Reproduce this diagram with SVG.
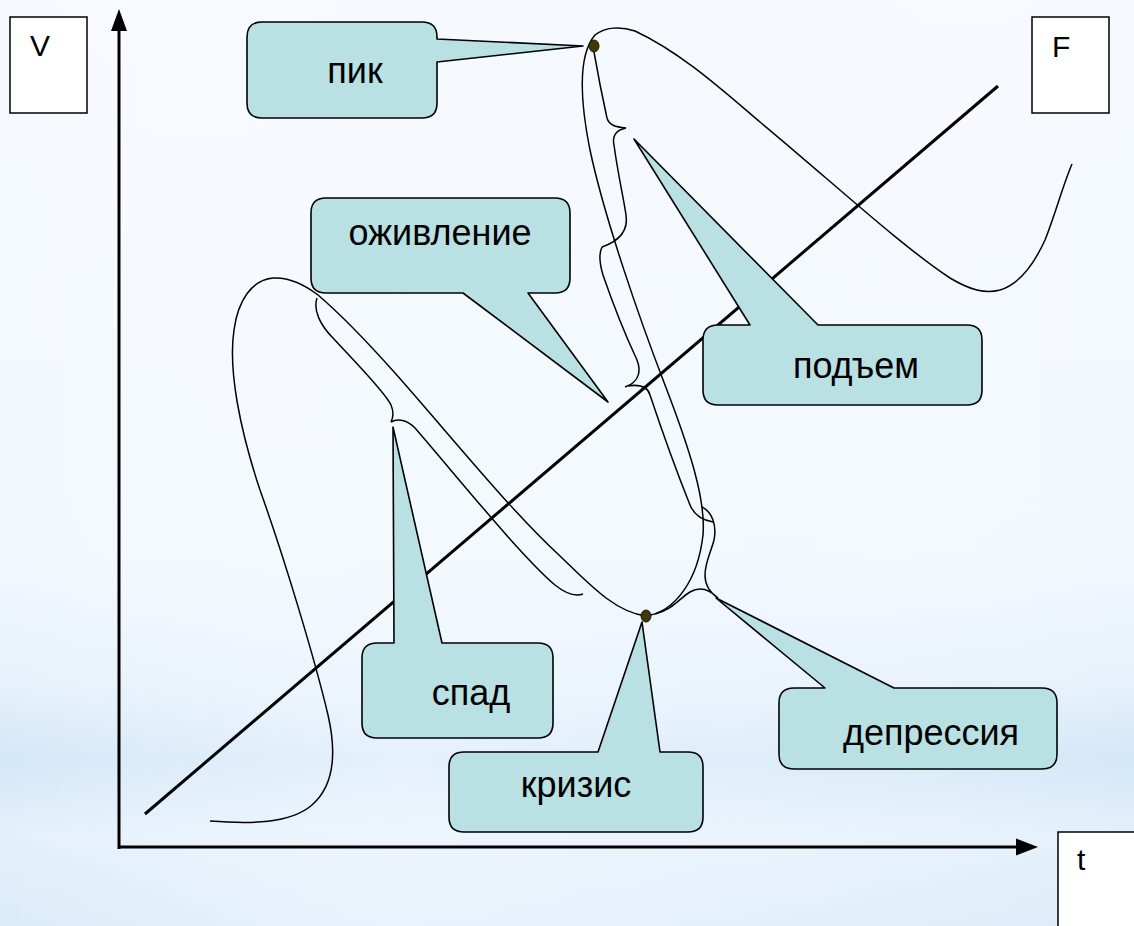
<svg xmlns="http://www.w3.org/2000/svg" width="1134" height="926" viewBox="0 0 1134 926">
<defs>
<linearGradient id="bg" x1="0" y1="0" x2="0" y2="1">
<stop offset="0" stop-color="#f6faff"/>
<stop offset="0.6" stop-color="#f2f8fe"/>
<stop offset="0.74" stop-color="#e6f1fb"/>
<stop offset="0.82" stop-color="#d3e7f8"/>
<stop offset="0.9" stop-color="#e4f0fb"/>
<stop offset="1" stop-color="#dbebf9"/>
</linearGradient>
<linearGradient id="bgh" x1="0" y1="0" x2="1" y2="0">
<stop offset="0" stop-color="#ffffff" stop-opacity="0"/>
<stop offset="0.35" stop-color="#f6faff" stop-opacity="0.5"/>
<stop offset="0.7" stop-color="#f6faff" stop-opacity="0.3"/>
<stop offset="1" stop-color="#ffffff" stop-opacity="0"/>
</linearGradient>
<marker id="ah" viewBox="0 0 10 10" refX="10" refY="5" markerWidth="7" markerHeight="6" markerUnits="strokeWidth" orient="auto">
<path d="M0,0 L10,5 L0,10 Z" fill="#000"/>
</marker>
<style>
.lbl{fill:#fff;stroke:#000;stroke-width:1.5}
.ax{fill:none;stroke:#000;stroke-width:3}
.crv{fill:none;stroke:#000;stroke-width:1.5}
.co{fill:#b9e0e3;stroke:#000;stroke-width:1.6;stroke-linejoin:round}
.t{font-family:"Liberation Sans",Arial,sans-serif;font-size:36px;fill:#000;text-anchor:middle}
.s{font-family:"Liberation Sans",Arial,sans-serif;font-size:30px;fill:#000}
.dot{fill:#3d3a05;stroke:#1a1a00;stroke-width:1}
</style>
</defs>
<rect width="1134" height="926" fill="url(#bg)"/>
<rect width="1134" height="926" fill="url(#bgh)"/>

<g id="axis-labels">
<g id="label-V"><rect class="lbl" x="10" y="17" width="77" height="96"/><text class="s" x="30" y="56">V</text></g>
<g id="label-F"><rect class="lbl" x="1032" y="17" width="77" height="96"/><text class="s" x="1052" y="57">F</text></g>
<g id="label-t"><rect class="lbl" x="1058" y="832" width="80" height="96"/><text class="s" x="1077" y="870">t</text></g>
</g>

<g id="connectors">
<line class="ax" x1="119" y1="849" x2="119" y2="28"/>
<path d="M119,9 L127,31 L111,31 Z" fill="#000"/>
<line class="ax" x1="118" y1="847" x2="1018" y2="847"/>
<path d="M1038,847 L1016,838.5 L1016,855.5 Z" fill="#000"/>
<line class="ax" x1="145" y1="814" x2="998" y2="86"/>
<path class="crv" d="M210,821 C250,824 290,824 312,805 C335,785 336,750 328,715 C315,660 285,560 260,490 C240,430 228,370 234,330 C238,300 252,280 273,278 C290,277 305,285 318,295 C345,318 370,345 395,373 C450,435 510,510 560,556 C590,585 615,612 646,616 C675,612 698,580 703,535 C706,500 690,450 665,385 C640,320 605,220 590,150 C580,100 578,55 595,35 C605,27 620,26 635,31 C680,52 720,88 760,122 C830,180 900,245 950,278 C970,290 985,294 1000,290 C1020,284 1035,262 1045,240 C1055,215 1063,185 1072,164"/>
<path class="crv" d="M594,52 C598,75 603,100 607,118 C609,125 615,127 626,128 C616,130 612,136 614,145 C618,175 624,200 626,215 C628,228 622,240 602,247"/>
<path class="crv" d="M602,247 C598,255 600,265 603,275 C615,310 630,345 637,360 C641,370 640,382 625,387 M627,386 C640,384 648,387 650,395 C665,440 680,480 690,505 C694,515 702,520 713,522"/>
<path class="crv" d="M702,507 C712,512 717,525 714,540 C711,552 705,562 705,575 C705,588 712,594 718,598 M718,598 C710,590 700,586 690,592 C680,598 672,610 655,614"/>
<path class="crv" d="M317,298 C313,310 320,325 333,338 C355,362 385,392 391,405 C394,412 393,418 391,422 M391,422 C398,418 407,420 415,428 C460,480 520,555 555,585 C565,593 575,597 583,594"/>
</g>

<g id="callout-pik"><path class="co" d="M262,22 H422 Q437,22 437,37 V39 L583,46 L437,62 V103 Q437,118 422,118 H262 Q247,118 247,103 V37 Q247,22 262,22 Z"/><text class="t" x="355" y="83">пик</text></g>
<g id="callout-ozhivlenie"><path class="co" d="M326,198 H555 Q570,198 570,213 V278 Q570,293 555,293 H528 L608,402 L463,293 H326 Q311,293 311,278 V213 Q311,198 326,198 Z"/><text class="t" x="440" y="245">оживление</text></g>
<g id="callout-podem"><path class="co" d="M718,325 H750 L634,139 L818,325 H967 Q982,325 982,340 V390 Q982,405 967,405 H718 Q703,405 703,390 V340 Q703,325 718,325 Z"/><text class="t" x="856" y="378">подъем</text></g>
<g id="callout-spad"><path class="co" d="M377,643 H394 L393,427 L442,643 H538 Q553,643 553,658 V723 Q553,738 538,738 H377 Q362,738 362,723 V658 Q362,643 377,643 Z"/><text class="t" x="471" y="705">спад</text></g>
<g id="callout-krizis"><path class="co" d="M464,752 H598 L642,622 L660,752 H688 Q703,752 703,767 V817 Q703,832 688,832 H464 Q449,832 449,817 V767 Q449,752 464,752 Z"/><text class="t" x="576" y="797">кризис</text></g>
<g id="callout-depressiya"><path class="co" d="M794,688 H825 L716,598 L894,688 H1042 Q1057,688 1057,703 V754 Q1057,769 1042,769 H794 Q779,769 779,754 V703 Q779,688 794,688 Z"/><text class="t" x="931" y="745">депрессия</text></g>

<g id="points">
<ellipse class="dot" cx="594" cy="46" rx="5" ry="6"/>
<ellipse class="dot" cx="646" cy="616" rx="5" ry="6"/>
</g>
</svg>
